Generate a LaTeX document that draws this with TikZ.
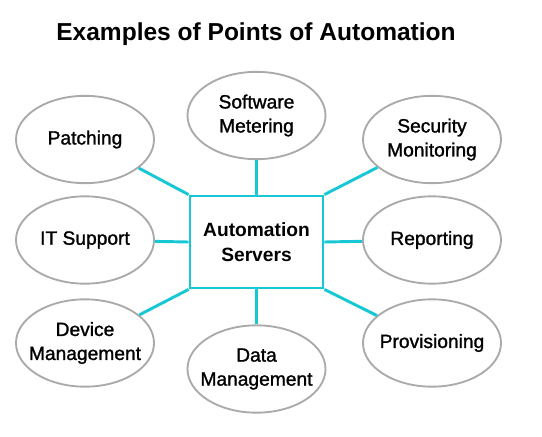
\documentclass[tikz,border=0pt]{standalone}
\usepackage{fontspec}
\setmainfont{Liberation Sans}
\newfontfamily\medfont[FakeBold=1.3]{Liberation Sans}
\usetikzlibrary{shapes.geometric}
\definecolor{linkcyan}{HTML}{17C8D4}
\definecolor{ringgray}{HTML}{AAAAAA}
\begin{document}
\begin{tikzpicture}[x=0.75pt,y=-0.75pt,
  bubble/.style={ellipse,draw=ringgray,line width=1.4pt,minimum width=103.5pt,minimum height=65.5pt,inner sep=-14pt,align=center,font=\medfont\fontsize{14.4pt}{18pt}\selectfont},
  hub/.style={rectangle,draw=linkcyan,line width=2.1pt,minimum width=99.75pt,minimum height=69pt,inner sep=0pt,align=center,font=\bfseries\fontsize{14.4pt}{18.5pt}\selectfont},
  link/.style={draw=linkcyan,line width=2.2pt}]
\useasboundingbox (0,0) rectangle (542,436);
\node[font=\bfseries\fontsize{18.4pt}{22pt}\selectfont] (title) at (256,34) {Examples of Points of Automation};
\node[hub] (hub) at (256.5,242) {Automation\\Servers};
\node[bubble] (patch) at (85,139.5) {Patching};
\node[bubble] (soft) at (256.5,115.5) {Software\\Metering};
\node[bubble] (secu) at (432,139.5) {Security\\Monitoring};
\node[bubble] (itsup) at (85,240) {IT Support};
\node[bubble] (report) at (432,240) {Reporting};
\node[bubble] (device) at (85,343) {Device\\Management};
\node[bubble] (data) at (256.5,369) {Data\\Management};
\node[bubble] (prov) at (432,343) {Provisioning};
\path[link] (hub.north west) -- (patch);
\path[link] (hub.north) -- (soft);
\path[link] (hub.north east) -- (secu);
\path[link] (hub.west) -- (itsup);
\path[link] (hub.east) -- (report);
\path[link] (hub.south west) -- (device);
\path[link] (hub.south) -- (data);
\path[link] (hub.south east) -- (prov);
\end{tikzpicture}
\end{document}
